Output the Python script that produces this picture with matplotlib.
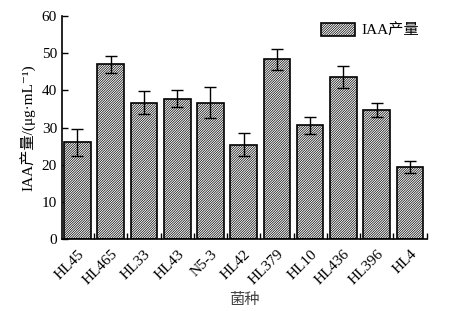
import matplotlib
matplotlib.use("Agg")
import matplotlib.pyplot as plt
import numpy as np

strains = ["HL45", "HL465", "HL33", "HL43", "N5-3", "HL42", "HL379", "HL10", "HL436", "HL396", "HL4"]
iaa = [26.0, 47.0, 36.7, 37.8, 36.7, 25.3, 48.3, 30.6, 43.5, 34.6, 19.3]
err = [3.6, 2.3, 3.0, 2.4, 4.2, 3.1, 2.9, 2.3, 3.0, 1.9, 1.6]
yticks = [0, 10, 20, 30, 40, 50, 60]

plt.rcParams['font.family'] = ['Liberation Serif', 'Noto Sans CJK SC', 'DejaVu Serif']
plt.rcParams['hatch.linewidth'] = 0.5

fig = plt.figure(figsize=(4.65, 3.11), dpi=100)
ax = fig.add_axes([0.133, 0.2315, 0.785, 0.717])

x = np.arange(len(strains))
ax.bar(x, iaa, width=0.8, color='white', edgecolor='black', hatch='/' * 14,
       linewidth=1.2, label='IAA产量', zorder=2)
ax.errorbar(x, iaa, yerr=err, fmt='none', ecolor='black', elinewidth=1.0,
            capsize=4, capthick=1.0, zorder=3)

ax.set_xlim(-0.47, 10.51)
ax.set_ylim(0, 60)
ax.set_yticks(yticks)
ax.tick_params(axis='y', direction='in', length=4, width=1, labelsize=11)
ax.set_xticks(x)
ax.set_xticklabels(strains, rotation=45, ha='right', va='top', rotation_mode='anchor', fontsize=11)
ax.tick_params(axis='x', which='major', length=0, pad=6)
ax.set_xticks(np.arange(0.5, 11.0, 1.0), minor=True)
ax.tick_params(axis='x', which='minor', direction='in', length=4, width=1)

for s in ['top', 'right']:
    ax.spines[s].set_visible(False)
for s in ['left', 'bottom']:
    ax.spines[s].set_linewidth(1.2)

ax.set_ylabel('IAA产量/(μg·mL⁻¹)', fontsize=11)
ax.set_xlabel('菌种', fontsize=11, color='#444444')

leg = ax.legend(loc='upper right', bbox_to_anchor=(1.015, 1.03), frameon=False, fontsize=11,
                handlelength=2.2, handleheight=0.9, handletextpad=0.4)

fig.savefig('out.png', dpi=100)
